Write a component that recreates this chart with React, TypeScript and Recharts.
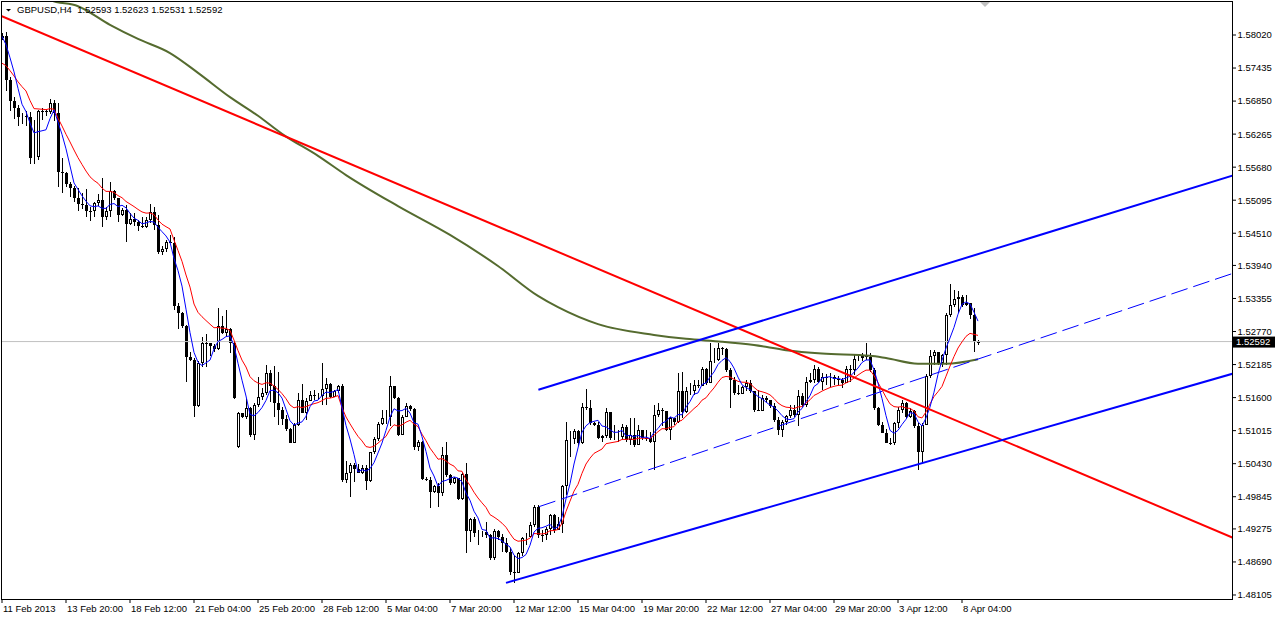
import React from "react";
import { ComposedChart, Bar, Line, XAxis, YAxis, ReferenceLine } from "recharts";

// GBPUSD H4, bars numbered from 11 Feb 2013 00:00 (bar 1 = first visible bar)
const closes = [
  1.5800, 1.5722, 1.5686, 1.5673, 1.5657, 1.5659, 1.5657, 1.5584, 1.5586, 1.5668,
  1.5667, 1.5666, 1.5682, 1.5664, 1.5560, 1.5558, 1.5538, 1.5531, 1.5513, 1.5503,
  1.5501, 1.5491, 1.5490, 1.5505, 1.5510, 1.5480, 1.5490, 1.5525, 1.5513, 1.5483,
  1.5492, 1.5467, 1.5476, 1.5471, 1.5463, 1.5462, 1.5474, 1.5489, 1.5466, 1.5417,
  1.5423, 1.5436, 1.5434, 1.5322, 1.5309, 1.5286, 1.5232, 1.5227, 1.5146, 1.5222,
  1.5257, 1.5256, 1.5251, 1.5246, 1.5287, 1.5275, 1.5281, 1.5257, 1.5159, 1.5132,
  1.5125, 1.5141, 1.5094, 1.5147, 1.5161, 1.5169, 1.5204, 1.5181, 1.5151, 1.5138,
  1.5122, 1.5104, 1.5080, 1.5112, 1.5156, 1.5133, 1.5154, 1.5165, 1.5162, 1.5163,
  1.5175, 1.5184, 1.5161, 1.5171, 1.5181, 1.5014, 1.5026, 1.5041, 1.5033, 1.5027,
  1.5035, 1.5013, 1.5063, 1.5086, 1.5113, 1.5123, 1.5125, 1.5181, 1.5159, 1.5094,
  1.5126, 1.5145, 1.5139, 1.5073, 1.5082, 1.5015, 1.5014, 1.4992, 1.5003, 1.4991,
  1.5058, 1.5023, 1.5009, 1.5017, 1.4980, 1.5025, 1.4924, 1.4945, 1.4920, 1.4921,
  1.4922, 1.4917, 1.4876, 1.4923, 1.4914, 1.4902, 1.4887, 1.4852, 1.4850, 1.4884,
  1.4911, 1.4914, 1.4934, 1.4967, 1.4917, 1.4916, 1.4927, 1.4952, 1.4926, 1.4937,
  1.5003, 1.5085, 1.5086, 1.5101, 1.5079, 1.5143, 1.5141, 1.5115, 1.5112, 1.5088,
  1.5092, 1.5135, 1.5088, 1.5089, 1.5090, 1.5108, 1.5085, 1.5094, 1.5076, 1.5103,
  1.5089, 1.5088, 1.5082, 1.5129, 1.5138, 1.5137, 1.5103, 1.5123, 1.5116, 1.5171,
  1.5135, 1.5171, 1.5172, 1.5182, 1.5181, 1.5210, 1.5185, 1.5224, 1.5227, 1.5247,
  1.5246, 1.5209, 1.5191, 1.5168, 1.5167, 1.5178, 1.5186, 1.5171, 1.5138, 1.5137,
  1.5159, 1.5155, 1.5145, 1.5120, 1.5103, 1.5117, 1.5127, 1.5138, 1.5129, 1.5162,
  1.5147, 1.5188, 1.5191, 1.5210, 1.5188, 1.5197, 1.5194, 1.5196, 1.5193, 1.5191,
  1.5185, 1.5210, 1.5209, 1.5228, 1.5230, 1.5234, 1.5232, 1.5209, 1.5141, 1.5112,
  1.5098, 1.5080, 1.5079, 1.5115, 1.5138, 1.5150, 1.5126, 1.5137, 1.5109, 1.5064,
  1.5112, 1.5198, 1.5234, 1.5240, 1.5222, 1.5236, 1.5306, 1.5324, 1.5334, 1.5338,
  1.5324, 1.5327, 1.5306, 1.5261, 1.52592,
];

const highs = [
  1.5806, 1.5808, 1.5728, 1.5693, 1.5678, 1.5664, 1.5668, 1.5666, 1.5652, 1.5669,
  1.5673, 1.5671, 1.5689, 1.5687, 1.5682, 1.5584, 1.5559, 1.5542, 1.5535, 1.5531,
  1.5522, 1.5529, 1.5498, 1.5507, 1.5521, 1.5549, 1.5498, 1.5542, 1.5528, 1.5507,
  1.5496, 1.5501, 1.5487, 1.5487, 1.5474, 1.5480, 1.5480, 1.5503, 1.5498, 1.5483,
  1.5428, 1.5439, 1.5448, 1.5445, 1.5327, 1.5312, 1.5289, 1.5240, 1.5230, 1.5224,
  1.5268, 1.5273, 1.5257, 1.5255, 1.5318, 1.5305, 1.5315, 1.5283, 1.5261, 1.5135,
  1.5133, 1.5157, 1.5143, 1.5150, 1.5196, 1.5177, 1.5218, 1.5209, 1.5216, 1.5206,
  1.5143, 1.5129, 1.5106, 1.5115, 1.5168, 1.5184, 1.5159, 1.5171, 1.5174, 1.5169,
  1.5222, 1.5194, 1.5185, 1.5174, 1.5182, 1.5184, 1.5047, 1.5044, 1.5044, 1.5043,
  1.5041, 1.5041, 1.5064, 1.5090, 1.5117, 1.5138, 1.5138, 1.5198, 1.5181, 1.5161,
  1.5129, 1.5151, 1.5147, 1.5141, 1.5085, 1.5084, 1.5020, 1.5019, 1.5005, 1.5008,
  1.5073, 1.5082, 1.5025, 1.5020, 1.5014, 1.5029, 1.5044, 1.4946, 1.4948, 1.4925,
  1.4923, 1.4940, 1.4919, 1.4927, 1.4926, 1.4919, 1.4911, 1.4893, 1.4881, 1.4887,
  1.4914, 1.4920, 1.4940, 1.4970, 1.4970, 1.4926, 1.4931, 1.4954, 1.4954, 1.4949,
  1.5005, 1.5117, 1.5100, 1.5104, 1.5103, 1.5150, 1.5175, 1.5156, 1.5117, 1.5117,
  1.5094, 1.5141, 1.5135, 1.5112, 1.5103, 1.5113, 1.5112, 1.5124, 1.5123, 1.5112,
  1.5101, 1.5103, 1.5099, 1.5147, 1.5150, 1.5141, 1.5125, 1.5126, 1.5124, 1.5203,
  1.5206, 1.5179, 1.5185, 1.5191, 1.5192, 1.5214, 1.5212, 1.5256, 1.5247, 1.5256,
  1.5250, 1.5247, 1.5212, 1.5197, 1.5182, 1.5181, 1.5191, 1.5191, 1.5172, 1.5174,
  1.5165, 1.5163, 1.5156, 1.5151, 1.5125, 1.5120, 1.5129, 1.5147, 1.5147, 1.5174,
  1.5168, 1.5197, 1.5203, 1.5218, 1.5214, 1.5203, 1.5202, 1.5203, 1.5200, 1.5198,
  1.5194, 1.5216, 1.5218, 1.5236, 1.5236, 1.5239, 1.5257, 1.5239, 1.5212, 1.5143,
  1.5117, 1.5104, 1.5088, 1.5117, 1.5143, 1.5156, 1.5153, 1.5141, 1.5138, 1.5115,
  1.5115, 1.5202, 1.5244, 1.5244, 1.5241, 1.5238, 1.5309, 1.5362, 1.5351, 1.5349,
  1.5342, 1.5342, 1.5324, 1.5318, 1.52623,
];

const lows = [
  1.5793, 1.5702, 1.5668, 1.5653, 1.5641, 1.5644, 1.5641, 1.5574, 1.5574, 1.5581,
  1.5652, 1.5659, 1.5662, 1.5649, 1.5533, 1.5523, 1.5533, 1.5516, 1.5507, 1.5491,
  1.5494, 1.5480, 1.5473, 1.5480, 1.5499, 1.5462, 1.5474, 1.5480, 1.5510, 1.5471,
  1.5482, 1.5436, 1.5466, 1.5463, 1.5455, 1.5460, 1.5460, 1.5469, 1.5457, 1.5414,
  1.5413, 1.5418, 1.5433, 1.5315, 1.5281, 1.5283, 1.5188, 1.5224, 1.5126, 1.5144,
  1.5215, 1.5215, 1.5234, 1.5241, 1.5244, 1.5273, 1.5268, 1.5239, 1.5157, 1.5070,
  1.5123, 1.5122, 1.5091, 1.5085, 1.5144, 1.5156, 1.5165, 1.5153, 1.5126, 1.5112,
  1.5112, 1.5100, 1.5079, 1.5079, 1.5109, 1.5132, 1.5120, 1.5155, 1.5156, 1.5156,
  1.5147, 1.5147, 1.5159, 1.5161, 1.5168, 1.5011, 1.5009, 1.4984, 1.5011, 1.5026,
  1.5025, 1.4996, 1.5011, 1.5060, 1.5084, 1.5111, 1.5113, 1.5109, 1.5157, 1.5092,
  1.5094, 1.5125, 1.5137, 1.5067, 1.5066, 1.5014, 1.5013, 1.4964, 1.4991, 1.4966,
  1.4985, 1.5020, 1.5005, 1.5007, 1.4979, 1.4979, 1.4884, 1.4905, 1.4914, 1.4899,
  1.4914, 1.4911, 1.4873, 1.4873, 1.4908, 1.4886, 1.4884, 1.4846, 1.4832, 1.4861,
  1.4880, 1.4899, 1.4913, 1.4931, 1.4911, 1.4905, 1.4908, 1.4917, 1.4920, 1.4927,
  1.4920, 1.4988, 1.5055, 1.5078, 1.5074, 1.5078, 1.5138, 1.5112, 1.5109, 1.5086,
  1.5082, 1.5088, 1.5085, 1.5085, 1.5081, 1.5085, 1.5081, 1.5076, 1.5073, 1.5091,
  1.5085, 1.5083, 1.5080, 1.5032, 1.5126, 1.5109, 1.5100, 1.5085, 1.5112, 1.5115,
  1.5123, 1.5132, 1.5165, 1.5165, 1.5177, 1.5182, 1.5182, 1.5188, 1.5221, 1.5225,
  1.5236, 1.5206, 1.5141, 1.5165, 1.5165, 1.5166, 1.5172, 1.5168, 1.5135, 1.5136,
  1.5136, 1.5152, 1.5142, 1.5117, 1.5094, 1.5091, 1.5112, 1.5123, 1.5126, 1.5109,
  1.5144, 1.5144, 1.5185, 1.5185, 1.5185, 1.5174, 1.5182, 1.5178, 1.5182, 1.5182,
  1.5177, 1.5185, 1.5188, 1.5200, 1.5225, 1.5225, 1.5227, 1.5206, 1.5138, 1.5109,
  1.5097, 1.5079, 1.5076, 1.5076, 1.5106, 1.5132, 1.5123, 1.5123, 1.5106, 1.5032,
  1.5044, 1.5112, 1.5194, 1.5218, 1.5218, 1.5215, 1.5218, 1.5303, 1.5320, 1.5309,
  1.5321, 1.5322, 1.5300, 1.5240, 1.52531,
];

// opens follow the previous close, except these bars
const firstOpen = 1.5797;
const gapOpens: Record<number, number> = { 60: 1.5073, 245: 1.52593 };

// closes before the first visible bar, and the red average just before it
const priorCloses = [1.5796, 1.5801, 1.5798, 1.5803];
const midSeed = 1.5744;

// slow (olive) average
const slowIdx = [12, 13, 20, 28, 35, 43, 50, 58, 65, 71, 80, 87, 100, 113, 125, 135, 140, 150, 164, 172, 181, 189, 197, 206, 218, 222, 230, 237, 245];
const slowVals = [
  1.5871, 1.5864, 1.5853, 1.582, 1.5795, 1.577, 1.5735, 1.5692, 1.5659, 1.5627,
  1.5588, 1.5554, 1.5499, 1.5448, 1.5393, 1.534, 1.532, 1.529, 1.5271, 1.5264,
  1.5259, 1.5253, 1.5244, 1.5238, 1.5234, 1.523, 1.522, 1.522, 1.5228,
];

const timeTicks = [1, 17, 33, 49, 65, 81, 97, 113, 129, 145, 161, 177, 193, 209, 225, 241];
const timeLabels = [
  "11 Feb 2013", "13 Feb 20:00", "18 Feb 12:00", "21 Feb 04:00", "25 Feb 20:00", "28 Feb 12:00",
  "5 Mar 04:00", "7 Mar 20:00", "12 Mar 12:00", "15 Mar 04:00", "19 Mar 20:00", "22 Mar 12:00",
  "27 Mar 04:00", "29 Mar 20:00", "3 Apr 12:00", "8 Apr 04:00",
];
const priceTicks = [
  1.5802, 1.57435, 1.5685, 1.56265, 1.5568, 1.55095, 1.5451, 1.5394, 1.53355,
  1.5277, 1.52185, 1.516, 1.51015, 1.5043, 1.49845, 1.49275, 1.4869, 1.48105,
];

// hand-drawn lines: [bar, price] end points
const trendRed = [[0, 1.5838], [310, 1.4908]];
const channelTop = [[135.1, 1.5174], [310, 1.5556]];
const channelBottom = [[127, 1.4832], [310, 1.5205]];
const channelMid = [[135.3, 1.4967], [310, 1.5383]];

const lastPrice = 1.52592;
const title = "GBPUSD,H4  1.52593 1.52623 1.52531 1.52592";

const FONT = "Liberation Sans";

const series = [...priorCloses, ...closes];
let ema = midSeed;
const rows = closes.map((close, k) => {
  const i = k + 1;
  const open = gapOpens[i] ?? (k === 0 ? firstOpen : closes[k - 1]);
  ema = ema + ((close - ema) * 2) / 14;
  const win = series.slice(k, k + 5);
  const s = slowIdx.indexOf(i);
  return {
    i,
    open,
    close,
    high: Math.max(highs[k], open, close),
    low: Math.min(lows[k], open, close),
    fast: win.reduce((a, b) => a + b, 0) / win.length,
    mid: ema,
    slow: s >= 0 ? slowVals[s] : null,
  };
});

function Candle(props: any) {
  const { x, y, width, height, payload } = props;
  if (!payload || !Number.isFinite(y) || !Number.isFinite(height)) return null;
  const { open, close, high, low } = payload;
  const top = Math.min(y, y + height);
  const span = Math.abs(height);
  const k = high > low ? span / (high - low) : 0;
  const cx = Math.round(x + width / 2);
  const yHigh = Math.round(top);
  const yLow = Math.round(top + span);
  const yOpen = Math.round(top + (high - open) * k);
  const yClose = Math.round(top + (high - close) * k);
  const bTop = Math.min(yOpen, yClose);
  const bBot = Math.max(yOpen, yClose);
  return (
    <g>
      <rect x={cx} y={yHigh} width={1} height={Math.max(yLow - yHigh, 1)} fill="#000" />
      {close > open ? (
        <rect x={cx - 0.5} y={bTop + 0.5} width={2} height={Math.max(bBot - bTop - 1, 0)} fill="#fff" stroke="#000" />
      ) : (
        <rect x={cx - 1} y={bTop} width={3} height={Math.max(bBot - bTop, 1)} fill="#000" />
      )}
    </g>
  );
}

function TimeTick({ x, y, payload }: any) {
  const label = timeLabels[timeTicks.indexOf(payload.value)];
  return (
    <text x={x + 1} y={y + 8.7} fontSize={9.5} fontFamily={FONT} fill="#000" textAnchor="start">
      {label}
    </text>
  );
}

function PriceTick({ x, y, payload }: any) {
  return (
    <text x={x} y={y + 3.4} fontSize={9.5} fontFamily={FONT} fill="#000" textAnchor="start">
      {Number(payload.value).toFixed(5)}
    </text>
  );
}

function PriceTag({ viewBox }: any) {
  if (!viewBox) return null;
  const left = viewBox.x + viewBox.width + 1;
  return (
    <g>
      <rect x={left} y={viewBox.y - 5} width={43} height={11} fill="#000" />
      <text x={left + 3} y={viewBox.y + 3.4} fontSize={9.5} fontFamily={FONT} fill="#fff">
        {lastPrice.toFixed(5)}
      </text>
    </g>
  );
}

const seg = (p: number[][]) => [
  { x: p[0][0], y: p[0][1] },
  { x: p[1][0], y: p[1][1] },
];

export default function App() {
  return (
    <div style={{ position: "absolute", left: 0, top: 0, width: 1275, height: 617, background: "#fff" }}>
      <ComposedChart
        width={1275}
        height={617}
        data={rows}
        margin={{ top: 1, right: 0, bottom: 0, left: 1 }}
      >
        <XAxis
          dataKey="i"
          type="number"
          domain={[0.75, 308.5]}
          allowDataOverflow
          ticks={timeTicks}
          interval={0}
          tickSize={4}
          tickMargin={0}
          axisLine={false}
          tickLine={{ stroke: "#000" }}
          height={18}
          tick={<TimeTick />}
        />
        <YAxis
          orientation="right"
          type="number"
          domain={[1.48034, 1.58622]}
          allowDataOverflow
          ticks={priceTicks}
          interval={0}
          tickSize={4}
          tickMargin={1.5}
          axisLine={false}
          tickLine={{ stroke: "#000" }}
          width={43}
          tick={<PriceTick />}
        />
        <ReferenceLine y={lastPrice} stroke="#c0c0c0" strokeWidth={1} label={<PriceTag />} />
        <Bar
          dataKey={(d: any) => [d.low, d.high]}
          barSize={3}
          shape={<Candle />}
          isAnimationActive={false}
        />
        <Line dataKey="slow" type="monotone" stroke="#556b2f" strokeWidth={2} dot={false} connectNulls isAnimationActive={false} />
        <Line dataKey="mid" type="linear" stroke="#ff0000" strokeWidth={1} dot={false} isAnimationActive={false} />
        <Line dataKey="fast" type="linear" stroke="#0000ff" strokeWidth={1} dot={false} isAnimationActive={false} />
        <ReferenceLine segment={seg(trendRed)} stroke="#ff0000" strokeWidth={2} ifOverflow="hidden" />
        <ReferenceLine segment={seg(channelTop)} stroke="#0000ff" strokeWidth={2} ifOverflow="hidden" />
        <ReferenceLine segment={seg(channelBottom)} stroke="#0000ff" strokeWidth={2} ifOverflow="hidden" />
        <ReferenceLine segment={seg(channelMid)} stroke="#0000ff" strokeWidth={1} strokeDasharray="17 6" ifOverflow="hidden" />
      </ComposedChart>
      <svg width={1275} height={617} style={{ position: "absolute", left: 0, top: 0, pointerEvents: "none" }}>
        <rect x={1.5} y={1.5} width={1231} height={598} fill="none" stroke="#000" />
        <polygon points="6,9 11,9 8.5,11.5" fill="#000" />
        <text x={17} y={13.3} fontSize={9.5} fontFamily={FONT} fill="#000" style={{ whiteSpace: "pre" }}>
          {title}
        </text>
        <polygon points="980,2 990,2 985,7" fill="#c0c0c0" />
      </svg>
    </div>
  );
}
